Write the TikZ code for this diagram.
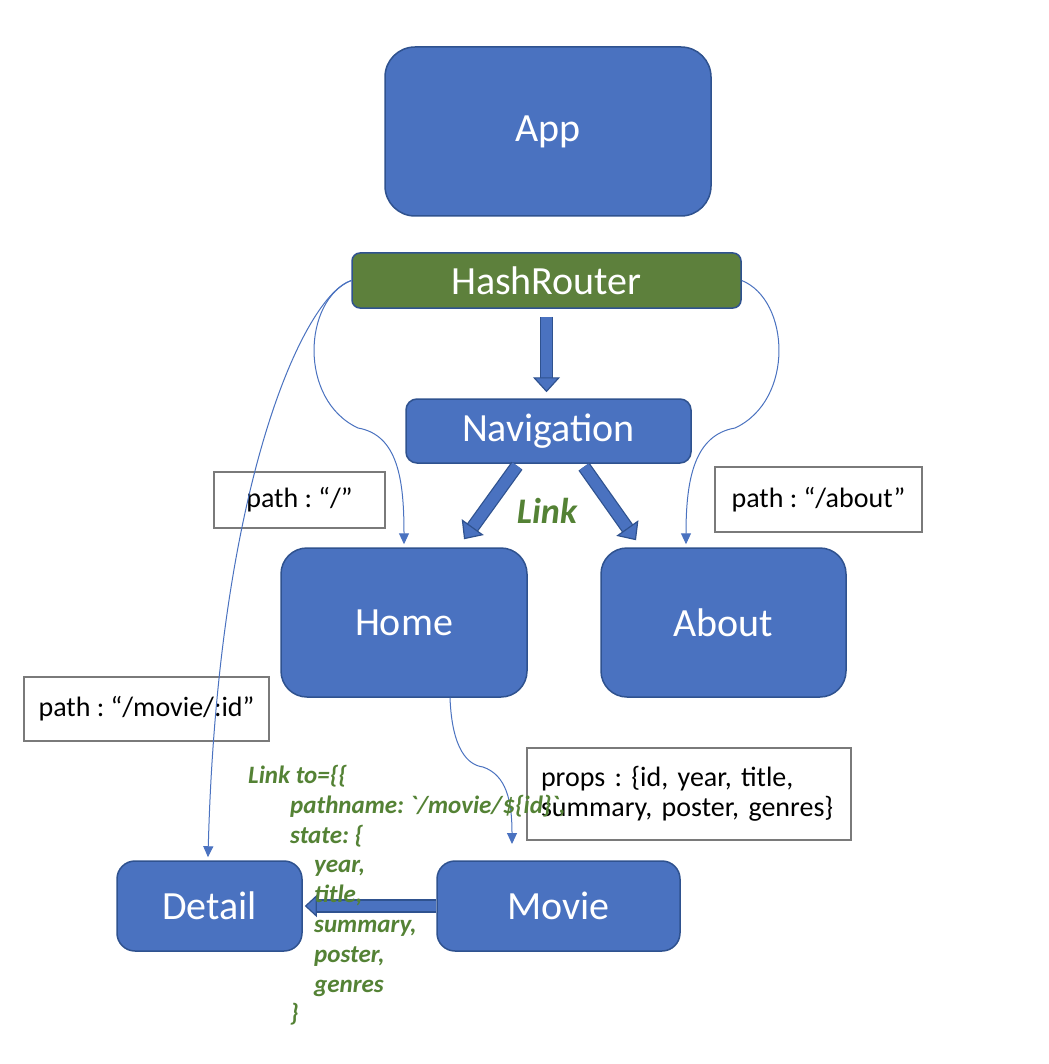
\documentclass[tikz,border=0pt]{standalone}
\usepackage{fontspec}
\setmainfont{Carlito}
\newfontfamily\codefont{Carlito}[Ligatures=TeXOff]
\usetikzlibrary{arrows.meta}
\definecolor{blueF}{HTML}{4A72C0}
\definecolor{blueD}{HTML}{2F528F}
\definecolor{greenF}{HTML}{5D803C}
\definecolor{greenT}{HTML}{548235}
\definecolor{boxgray}{HTML}{7A7A7A}
\begin{document}
\frenchspacing
\begin{tikzpicture}[x=1pt,y=-1pt,
  comp/.style={draw=blueD, line width=1.5pt, fill=blueF, text=white, inner sep=0pt,
     font=\fontsize{40}{48}\selectfont},
  lbl/.style={draw=boxgray, line width=1.3pt, fill=white, text=black, inner sep=0pt,
     font=\fontsize{28}{30}\selectfont},
  fat/.style={draw=blueF, line width=11pt,
     -{Triangle[length=15pt,width=27pt,line width=1.2pt,color=blueD,fill=blueF]},
     preaction={draw=blueD, line width=13.5pt, arrows=-, shorten >=10pt}},
  thin/.style={draw=blueF, line width=1pt, -{Triangle[length=11pt,width=10pt]}},
  code/.style={text=greenT, font=\codefont\fontsize{25}{29.8}\selectfont\bfseries\itshape, inner sep=0pt}
]
\useasboundingbox (0,0) rectangle (1048,1064);
\fill[white] (0,0) rectangle (1048,1064);

% components
\node[comp, rounded corners=30pt, minimum width=326pt, minimum height=169pt] (app) at (548,131.5) {App};
\node[comp, fill=greenF, rounded corners=8pt, minimum width=389pt, minimum height=55pt] (hr) at (546.5,280.5) {HashRouter};
\node[comp, rounded corners=11pt, minimum width=285pt, minimum height=64pt] (nav) at (548.5,431) {Navigation};
\node[comp, rounded corners=26pt, minimum width=246pt, minimum height=149pt] (home) at (404,622.5) {Home};
\node[comp, rounded corners=26pt, minimum width=245pt, minimum height=149pt] (about) at (723.5,622.5) {About};
\node[comp, rounded corners=18pt, minimum width=185pt, minimum height=90pt] (detail) at (209.5,906) {Detail};
\node[comp, rounded corners=18pt, minimum width=243pt, minimum height=90pt] (movie) at (558.5,906) {Movie};

% label boxes
\node[lbl, minimum width=171pt, minimum height=56pt] (proot) at (299.5,500) {path : “/”};
\node[lbl, minimum width=207pt, minimum height=65pt] (pabout) at (818.5,499.5) {path : “/about”};
\node[lbl, minimum width=245pt, minimum height=64pt] (pmovie) at (146.5,709) {path : “/movie/:id”};
\node[lbl, minimum width=324pt, minimum height=92pt, text width=296pt, align=left] (props) at (689,794)
  {props : \{id, year, title,\\summary, poster, genres\}};

% thin route connectors
\draw[thin] (hr.west) .. controls (305,295) and (218,480) .. ([xshift=-1.5pt,yshift=3pt]detail.north);
\draw[thin] (hr.west) .. controls (303,300) and (298,400) .. (358,428)
   .. controls (398,435) and (404,480) .. ([yshift=3pt]home.north);
\draw[thin] (hr.east) .. controls (790,300) and (795,400) .. (735,428)
   .. controls (694,435) and (686,480) .. ([xshift=-37.5pt,yshift=3pt]about.north);
\coordinate (mv) at (512,844);
\draw[thin] ([xshift=46pt]home.south) .. controls (452,750) and (468,765) .. (483,767)
   .. controls (506,775) and (512,800) .. (mv);

% fat arrows
\draw[fat] ([yshift=-8pt]hr.south) -- ([yshift=6pt,xshift=-2pt]nav.north);
\draw[fat] ([xshift=-31.5pt,yshift=-2pt]nav.south) -- ([xshift=60pt,yshift=8pt]home.north);
\draw[fat] ([xshift=35.5pt,yshift=-3pt]nav.south) -- ([xshift=-87.5pt,yshift=7pt]about.north);
\draw[fat, line width=10pt, -{Triangle[length=12pt,width=22pt,line width=1.2pt,color=blueD,fill=blueF]}]
  (movie.west) -- ([xshift=2pt]detail.east);

% Link label
\node[code, font=\codefont\fontsize{36}{40}\selectfont\bfseries\itshape] (link) at (547,511) {Link};

% code text
\node[code, anchor=north west, align=left] (linkto) at (248,765)
 {Link to=\{\{\\
 \hspace*{42pt}pathname: `/movie/\$\{id\}`,\\
 \hspace*{42pt}state: \{\\
 \hspace*{66pt}year,\\
 \hspace*{66pt}title,\\
 \hspace*{66pt}summary,\\
 \hspace*{66pt}poster,\\
 \hspace*{66pt}genres\\
 \hspace*{42pt}\}};
\end{tikzpicture}
\end{document}
